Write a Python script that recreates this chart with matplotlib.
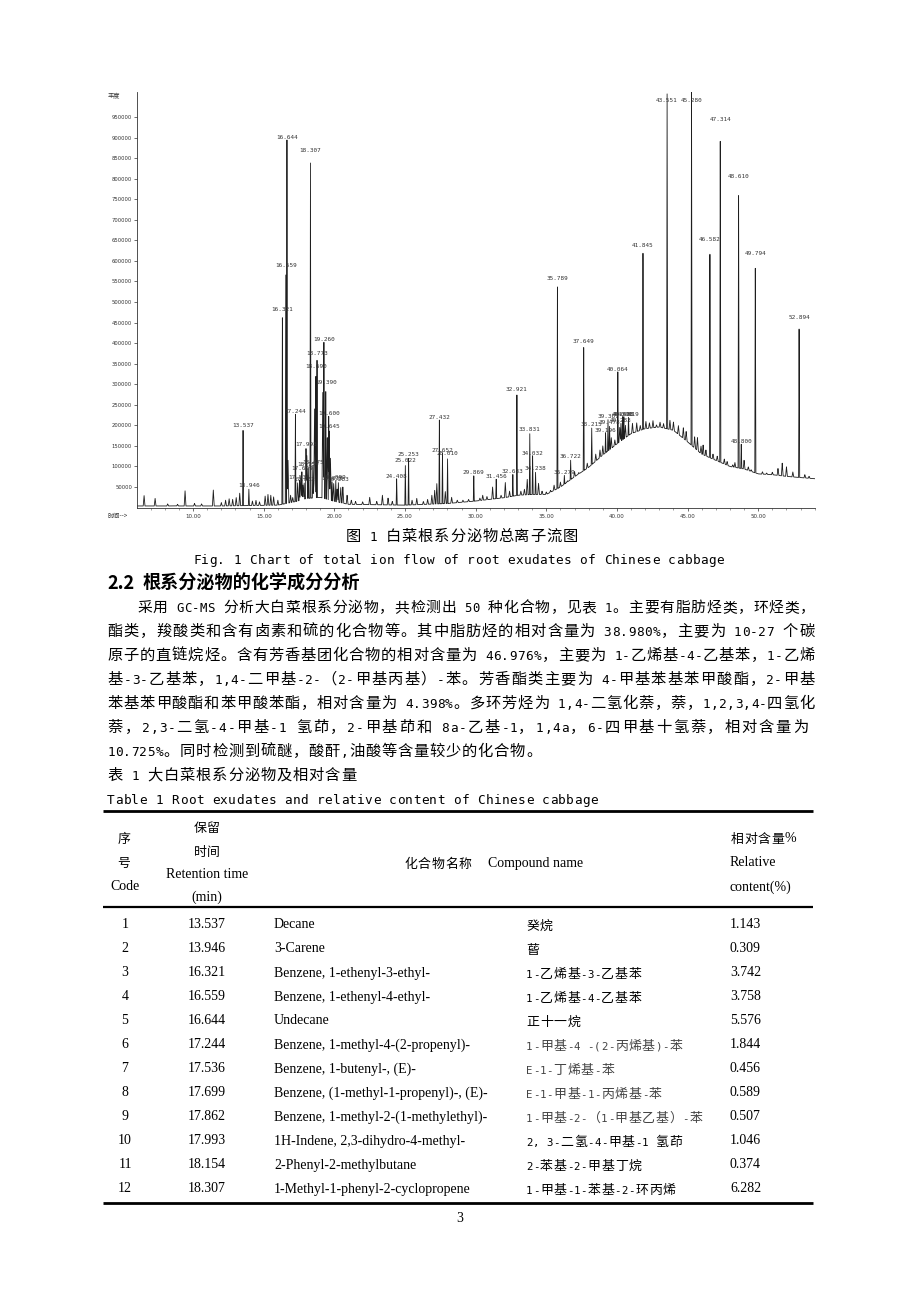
import numpy as np
import matplotlib
matplotlib.use('Agg')
import matplotlib.pyplot as plt

CJK = ['Noto Sans CJK SC', 'DejaVu Sans']

# ---------------- chromatogram data ----------------
peak_times = [13.537, 13.946, 16.321, 16.559, 16.644, 17.244, 17.536, 17.699, 17.862,
              17.993, 18.154, 18.307, 18.475, 18.690, 18.773, 19.260, 19.390, 19.600,
              19.645, 19.835, 20.099, 20.283, 24.408, 25.022, 25.253, 27.432, 27.652,
              28.010, 29.869, 31.456, 32.633, 32.921, 33.831, 34.032, 34.238, 35.789,
              36.279, 36.722, 37.649, 38.215, 39.196, 39.367, 39.478, 40.064, 40.283,
              40.396, 40.488, 40.819, 41.845, 43.551, 45.280, 46.582, 47.314, 48.610,
              48.800, 49.794, 52.894]
peak_heights = [193000, 47000, 475000, 582000, 894000, 227000, 67000, 89000, 62000,
                147000, 99000, 862000, 104000, 337000, 368000, 402000, 298000, 222000,
                191000, 64000, 67000, 62000, 70000, 108000, 123000, 213000, 133000,
                125000, 79000, 69000, 82000, 281000, 184000, 126000, 89000, 551000,
                79000, 118000, 398000, 196000, 182000, 216000, 201000, 330000, 206000,
                221000, 221000, 221000, 631000, 1030000, 1030000, 646000, 938000, 799000,
                154000, 612000, 456000]
peak_labels = ['13.537', '13.946', '16.321', '16.559', '16.644', '17.244', '17.536', '17.699', '17.862',
               '17.993', '18.154', '18.307', '18.475', '18.690', '18.773', '19.260', '19.390', '19.600',
               '19.645', '19.835', '20.099', '20.283', '24.408', '25.022', '25.253', '27.432', '27.652',
               '28.010', '29.869', '31.456', '32.633', '32.921', '33.831', '34.032', '34.238', '35.789',
               '36.279', '36.722', '37.649', '38.215', '39.196', '39.367', '39.478', '40.064', '40.283',
               '40.396', '40.488', '40.819', '41.845', '43.551', '45.280', '46.582', '47.314', '48.610',
               '48.800', '49.794', '52.894']

minor_times = [6.53, 7.31, 8.2, 8.9, 9.43, 10.1, 10.6, 11.43, 12.0, 12.3, 12.55, 12.8, 13.05, 13.3,
               14.2, 14.45, 14.7, 15.1, 15.3, 15.5, 15.7, 16.0, 16.72, 16.9, 17.05, 17.4, 17.62,
               17.78, 18.05, 18.55, 18.6, 19.18, 19.5, 19.72, 19.95, 20.2, 20.45, 20.6, 20.9, 21.2,
               21.5, 22.0, 22.5, 23.0, 23.4, 23.8, 24.1, 25.5, 25.83, 26.3, 26.6, 26.9, 27.1, 27.25,
               27.85, 28.3, 28.7, 29.1, 29.5, 30.3, 30.5, 30.8, 31.2, 31.8, 32.1, 32.4, 33.2, 33.45,
               33.65, 34.45, 34.7, 35.0, 35.3, 35.55, 36.0, 36.5, 37.0, 37.3, 37.9, 38.5, 38.8, 39.0,
               39.6, 39.85, 40.2, 40.6, 41.1, 41.4, 41.65, 42.05, 42.3, 42.55, 42.8, 43.05, 43.3,
               43.75, 44.0, 44.35, 44.7, 44.9, 45.5, 45.7, 45.95, 46.1, 46.3, 46.8, 47.1, 47.6, 47.8,
               48.2, 48.35, 49.0, 49.3, 49.5, 50.3, 50.6, 51.0, 51.4, 51.7, 52.0, 52.45, 53.3, 53.6]
minor_heights = [30000, 23000, 9000, 8000, 42000, 10000, 9000, 44000, 12000, 18000, 22000, 20000, 25000, 35000,
                 16000, 18000, 14000, 28000, 32000, 30000, 26000, 18000, 115000, 30000, 25000, 60000, 75000,
                 55000, 130000, 60000, 240000, 280000, 170000, 120000, 60000, 45000, 50000, 50000, 30000, 18000,
                 15000, 14000, 25000, 15000, 30000, 23000, 15000, 18000, 23000, 15000, 20000, 30000, 42000, 60000,
                 40000, 25000, 18000, 18000, 20000, 23000, 30000, 27000, 50000, 30000, 61000, 40000, 40000, 45000,
                 70000, 60000, 40000, 38000, 42000, 55000, 62000, 65000, 88000, 85000, 108000, 130000, 140000, 150000,
                 170000, 165000, 195000, 200000, 205000, 206000, 200000, 210000, 206000, 212000, 201000, 208000, 204000,
                 213000, 208000, 200000, 194000, 185000, 172000, 170000, 150000, 152000, 140000, 130000, 125000, 118000, 112000,
                 104000, 110000, 115000, 99000, 92000, 87000, 84000, 86000, 95000, 108000, 99000, 87000, 80000, 76000]

base_times = [6.0, 12.0, 16.0, 17.3, 18.0, 19.0, 20.0, 21.0, 25.0, 28.0, 30.0, 32.0, 33.0, 34.0,
              35.0, 36.0, 37.0, 38.0, 39.0, 40.0, 41.0, 42.0, 43.0, 44.0, 45.0, 46.0, 47.0, 48.0,
              49.0, 50.0, 51.0, 52.0, 53.0, 54.1]
base_levels = [4000, 4000, 6000, 15000, 22000, 25000, 15000, 8000, 6000, 10000, 16000, 24000, 30000, 32000,
               32000, 50000, 75000, 98000, 128000, 155000, 180000, 192000, 196000, 188000, 160000, 130000, 115000, 100000,
               94000, 82000, 80000, 76000, 73000, 70000]

y_ticks = [50000, 100000, 150000, 200000, 250000, 300000, 350000, 400000, 450000, 500000,
           550000, 600000, 650000, 700000, 750000, 800000, 850000, 900000, 950000]
x_ticks = [10, 15, 20, 25, 30, 35, 40, 45, 50]
x_tick_labels = ['10.00', '15.00', '20.00', '25.00', '30.00', '35.00', '40.00', '45.00', '50.00']

# ---------------- table data ----------------
codes = ['1', '2', '3', '4', '5', '6', '7', '8', '9', '10', '11', '12']
ret_times = ['13.537', '13.946', '16.321', '16.559', '16.644', '17.244', '17.536', '17.699',
             '17.862', '17.993', '18.154', '18.307']
names_en = ['Decane', '3-Carene', 'Benzene, 1-ethenyl-3-ethyl-', 'Benzene, 1-ethenyl-4-ethyl-',
            'Undecane', 'Benzene, 1-methyl-4-(2-propenyl)-', 'Benzene, 1-butenyl-, (E)-',
            'Benzene, (1-methyl-1-propenyl)-, (E)-', 'Benzene, 1-methyl-2-(1-methylethyl)-',
            '1H-Indene, 2,3-dihydro-4-methyl-', '2-Phenyl-2-methylbutane',
            '1-Methyl-1-phenyl-2-cyclopropene']
names_cn = ['癸烷', '蒈', '1-乙烯基-3-乙基苯', '1-乙烯基-4-乙基苯', '正十一烷',
            '1-甲基-4 -(2-丙烯基)-苯', 'E-1-丁烯基-苯', 'E-1-甲基-1-丙烯基-苯',
            '1-甲基-2-（1-甲基乙基）-苯', '2, 3-二氢-4-甲基-1 氢茚', '2-苯基-2-甲基丁烷',
            '1-甲基-1-苯基-2-环丙烯']
contents = ['1.143', '0.309', '3.742', '3.758', '5.576', '1.844', '0.456', '0.589',
            '0.507', '1.046', '0.374', '6.282']

para_lines = [
    '采用 GC-MS 分析大白菜根系分泌物，共检测出 50 种化合物，见表 1。主要有脂肪烃类，环烃类，',
    '酯类，羧酸类和含有卤素和硫的化合物等。其中脂肪烃的相对含量为 38.980%，主要为 10-27 个碳',
    '原子的直链烷烃。含有芳香基团化合物的相对含量为 46.976%，主要为 1-乙烯基-4-乙基苯，1-乙烯',
    '基-3-乙基苯，1,4-二甲基-2-（2-甲基丙基）-苯。芳香酯类主要为 4-甲基苯基苯甲酸酯，2-甲基',
    '苯基苯甲酸酯和苯甲酸苯酯，相对含量为 4.398%。多环芳烃为 1,4-二氢化萘，萘，1,2,3,4-四氢化',
    '萘，2,3-二氢-4-甲基-1 氢茚，2-甲基茚和 8a-乙基-1，1,4a，6-四甲基十氢萘，相对含量为',
    '10.725%。同时检测到硫醚，酸酐,油酸等含量较少的化合物。',
]

# ---------------- figure ----------------
fig = plt.figure(figsize=(9.2, 13.02), dpi=100)
page = fig.add_axes([0, 0, 1, 1])
page.set_xlim(0, 920)
page.set_ylim(1302, 0)
page.axis('off')

PX = 100 / 72.0  # px per point


def put_line(s, x0, yc, em, x1=None, color='black', lat_family='DejaVu Sans Mono'):
    units = [0.5 if ord(c) < 128 else 1.0 for c in s]
    tot = sum(units)
    step = (x1 - x0) / tot if x1 else em
    fs_cjk = min(em, step) * 0.95 / PX
    fs_lat = min(em, step) * 0.5 / 0.602 / PX * 0.95
    base = yc + 0.36 * em
    x = x0
    for c, u in zip(s, units):
        w = u * step
        if c != ' ':
            if u == 1:
                if c in '，。、；：）':
                    page.text(x + 0.03 * em, base, c, ha='left', va='baseline', fontsize=fs_cjk,
                              family=CJK, color=color)
                elif c == '（':
                    page.text(x + w - 0.03 * em, base, c, ha='right', va='baseline', fontsize=fs_cjk,
                              family=CJK, color=color)
                else:
                    page.text(x + w / 2, base, c, ha='center', va='baseline', fontsize=fs_cjk,
                              family=CJK, color=color)
            else:
                page.text(x + w / 2, base, c, ha='center', va='baseline', fontsize=fs_lat,
                          family=lat_family, color=color)
        x += w


# ---- chromatogram axes ----
XL, XR, YT, YB = 137, 815, 92, 507.6
chart = fig.add_axes([XL / 920, 1 - YB / 1302, (XR - XL) / 920, (YB - YT) / 1302])
chart.set_xlim(6.03, 54.02)
chart.set_ylim(0, 1010700)

t = np.arange(6.0, 54.1, 0.004)
base = np.interp(t, base_times, base_levels)
trace = base.copy()
for tp, h in zip(minor_times, minor_heights):
    tri = np.interp(t, [tp - 0.06, tp, tp + 0.06], [0, 1, 0])
    trace = np.maximum(trace, base + tri * (h - base))
for tp, h in zip(peak_times, peak_heights):
    tri = np.interp(t, [tp - 0.035, tp, tp + 0.035], [0, 1, 0])
    trace = np.maximum(trace, base + tri * (h - base))
chart.plot(t, trace, color='#1e1e1e', lw=0.6)

for tp, h, lab in zip(peak_times, peak_heights, peak_labels):
    chart.text(tp, min(h, 985000), lab, ha='center', va='bottom', fontsize=4.3,
               family='DejaVu Sans Mono', color='#333333', clip_on=False)

chart.set_yticks(y_ticks)
chart.set_yticklabels([str(v) for v in y_ticks])
chart.set_xticks(x_ticks)
chart.set_xticklabels(x_tick_labels)
chart.set_xticks(np.arange(7, 55, 1), minor=True)
chart.tick_params(axis='y', labelsize=3.8, length=2, width=0.5, pad=1.5, colors='#333333')
chart.tick_params(axis='x', which='major', labelsize=4.0, length=2.5, width=0.5, pad=2, colors='#333333')
chart.tick_params(axis='x', which='minor', length=1.5, width=0.4, colors='#555555')
for sp in ['top', 'right']:
    chart.spines[sp].set_visible(False)
for sp in ['left', 'bottom']:
    chart.spines[sp].set_linewidth(0.6)
    chart.spines[sp].set_color('#333333')
chart.patch.set_alpha(0)

page.text(108, 95, '丰度', ha='left', va='center', fontsize=4.5, family=CJK, color='#333333')
page.text(108, 516, '时间-->', ha='left', va='center', fontsize=4.5, family=CJK, color='#333333')

# ---- captions ----
EM = 16.1
put_line('图 1 白菜根系分泌物总离子流图', 345, 535, EM)
put_line('Fig. 1 Chart of total ion flow of root exudates of Chinese cabbage', 193, 558, EM)

page.text(107, 582 + 0.36 * 18.2, '2.2', ha='left', va='baseline', fontsize=18.2 / PX,
          family=CJK, weight='bold')
page.text(143, 582 + 0.36 * 18.2, '根系分泌物的化学成分分析', ha='left', va='baseline',
          fontsize=18.2 / PX, family=CJK, weight='bold')

line_y = [606, 630, 654, 678, 702, 726, 750]
for i, (s, y) in enumerate(zip(para_lines, line_y)):
    if i == 0:
        put_line(s, 137, y, EM, x1=815)
    elif i < 5:
        put_line(s, 107, y, EM, x1=815)
    elif i == 5:
        put_line(s, 107, y, EM, x1=809)
    else:
        put_line(s, 107, y, EM)

put_line('表 1 大白菜根系分泌物及相对含量', 107, 774, EM)
put_line('Table 1 Root exudates and relative content of Chinese cabbage', 107, 798, EM)

# ---- table ----
page.plot([103, 813], [811, 811], color='black', lw=2.0, solid_capstyle='butt')
page.plot([103, 813], [907, 907], color='black', lw=1.6, solid_capstyle='butt')
page.plot([103, 813], [1203, 1203], color='black', lw=2.0, solid_capstyle='butt')

TF = 'Liberation Serif'
TFS = 10.0
TEM = 13.6
# header
put_line('序', 124 - TEM / 2, 838, TEM)
put_line('号', 124 - TEM / 2, 862, TEM)
page.text(125, 887, 'Code', ha='center', va='center', fontsize=TFS, family=TF)
put_line('保留', 207 - TEM, 827, TEM)
put_line('时间', 207 - TEM, 851, TEM)
page.text(207, 875, 'Retention time', ha='center', va='center', fontsize=TFS, family=TF)
page.text(207, 897, '(min)', ha='center', va='center', fontsize=TFS, family=TF)
put_line('化合物名称', 404, 863, TEM)
page.text(488, 863, 'Compound name', ha='left', va='center', fontsize=TFS, family=TF)
put_line('相对含量', 730, 838, TEM)
page.text(730 + 4 * TEM, 838, '%', ha='left', va='center', fontsize=TFS, family=TF)
page.text(730, 863, 'Relative', ha='left', va='center', fontsize=TFS, family=TF)
page.text(730, 887, 'content(%)', ha='left', va='center', fontsize=TFS, family=TF)

for i in range(len(codes)):
    y = 925 + 24 * i
    page.text(125, y, codes[i], ha='center', va='center', fontsize=TFS, family=TF)
    page.text(207, y, ret_times[i], ha='center', va='center', fontsize=TFS, family=TF)
    page.text(274, y, names_en[i], ha='left', va='center', fontsize=TFS, family=TF)
    col = '#444444' if 5 <= i <= 8 else 'black'
    put_line(names_cn[i], 526, y, TEM, color=col)
    page.text(730, y, contents[i], ha='left', va='center', fontsize=TFS, family=TF)

page.text(460, 1218, '3', ha='center', va='center', fontsize=10, family=TF)

fig.savefig('out.png', dpi=100)
